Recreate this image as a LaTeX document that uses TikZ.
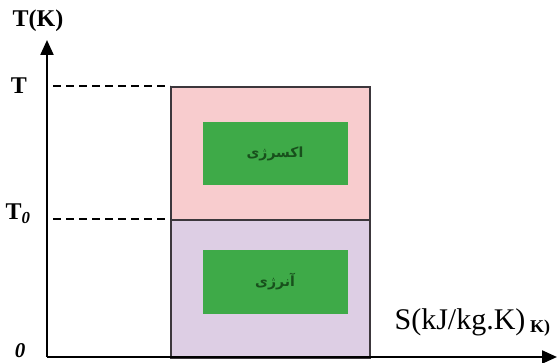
\documentclass[tikz,border=0pt]{standalone}
\usepackage{fontspec}
\setmainfont{Liberation Serif}
\newfontfamily\arabicfont[Script=Arabic]{DejaVu Sans}
\TeXXeTstate=1
\usetikzlibrary{arrows.meta}
\definecolor{pinkfill}{RGB}{248,204,206}
\definecolor{lavfill}{RGB}{221,206,228}
\definecolor{boxgreen}{RGB}{62,170,72}
\definecolor{textgreen}{RGB}{24,80,28}
\definecolor{edgegray}{RGB}{60,55,60}
\tikzset{
  axis/.style={line width=2.2pt, -{Triangle[length=15pt,width=13pt]}},
  guide/.style={dashed, line width=1.4pt, dash pattern=on 8pt off 5pt},
  region/.style={draw=edgegray, line width=1.6pt, minimum width=199pt, anchor=north west, inner sep=0pt},
  greenbox/.style={fill=boxgreen, minimum width=145pt, minimum height=63pt, inner sep=0pt,
    font=\arabicfont\bfseries\fontsize{14}{16}\selectfont, text=textgreen},
  ticklabel/.style={font=\bfseries\fontsize{24}{27}\selectfont, inner sep=0pt}
}
\begin{document}
\begin{tikzpicture}[x=1pt,y=-1pt]
\useasboundingbox (0,0) rectangle (559,363);
% shaded regions under the temperature T and T0
\node[region, fill=pinkfill, minimum height=133pt] (ex) at (170,86) {};
\node[region, fill=lavfill, minimum height=138pt] (an) at (170,219) {};
% labelled boxes
\node[greenbox] (exlab) at (275,154) {\beginR اکسرژی\endR};
\node[greenbox] (anlab) at (275,282) {\beginR آنرژی\endR};
% axes
\coordinate (O) at (47,357);
\coordinate (ytip) at (47,40);
\coordinate (xtip) at (557,357);
\draw[axis] (O) -- (ytip);
\draw[axis] (O) -- (xtip);
% axis labels
\node[ticklabel] (tk) at (38,21) {T(K)};
\node[ticklabel] (tt) at (19,86) {T};
\node[ticklabel] (t0) at (18,214) {T\textsubscript{\itshape 0}};
\node[ticklabel, font=\bfseries\itshape\fontsize{21}{23}\selectfont] (zero) at (20,351) {0};
% dashed guides to the temperature levels
\coordinate (g1) at (53,86);
\coordinate (g2) at (53,219);
\draw[guide] (g1) -- (ex.north west);
\draw[guide] (g2) -- (an.north west);
% entropy label, drawn over an older one
\node[font=\bfseries\fontsize{18}{20}\selectfont, inner sep=0pt] (sold) at (540,328) {K)};
\node[fill=white, inner ysep=1pt, inner xsep=3pt, font=\fontsize{30}{34}\selectfont] (sl) at (460,322) {S(kJ/kg.K)};
\end{tikzpicture}
\end{document}
